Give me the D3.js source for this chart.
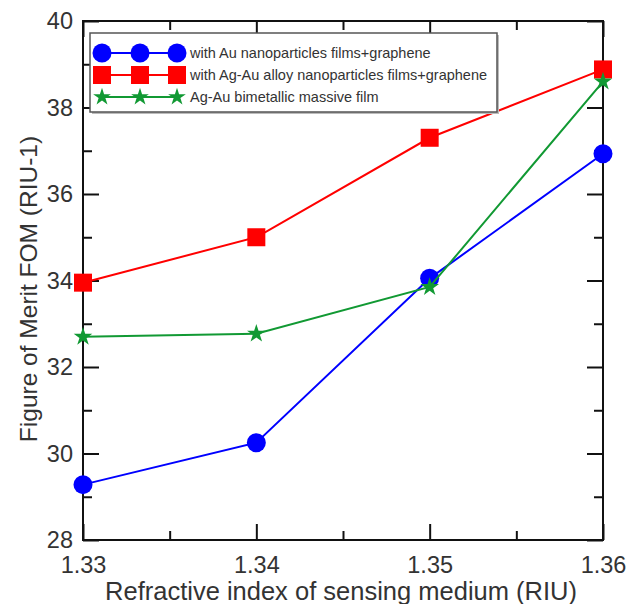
<!DOCTYPE html>
<html>
<head>
<meta charset="utf-8">
<script src="https://cdn.jsdelivr.net/npm/d3@7"></script>
<style>
  body { margin: 0; background: #fff; }
  text { font-family: "Liberation Sans", Arial, sans-serif; }
</style>
</head>
<body>
<svg width="636" height="604"></svg>
<script>
// data
var riu = [1.33, 1.34, 1.35, 1.36];
var auFilm = [29.28, 30.25, 34.05, 36.93];      // with Au nanoparticles films+graphene
var agAuFilm = [33.95, 35.0, 37.3, 38.88];      // with Ag-Au alloy nanoparticles films+graphene
var bimetal = [32.7, 32.77, 33.85, 38.6];       // Ag-Au bimetallic massive film
var xTicks = [1.33, 1.34, 1.35, 1.36];
var yTicks = [28, 30, 32, 34, 36, 38, 40];

var series = [
  {name: "with Au nanoparticles films+graphene", values: auFilm, color: "#0000ff", shape: "circle"},
  {name: "with Ag-Au alloy nanoparticles films+graphene", values: agAuFilm, color: "#ff0000", shape: "square"},
  {name: "Ag-Au bimetallic massive film", values: bimetal, color: "#119933", shape: "star"}
];

var svg = d3.select("svg"),
    margin = {top: 21, right: 33, bottom: 64, left: 83},
    width = 636 - margin.left - margin.right,
    height = 604 - margin.top - margin.bottom,
    g = svg.append("g").attr("transform", "translate(" + margin.left + "," + margin.top + ")");

var x = d3.scaleLinear().domain([1.33, 1.36]).range([0, width]);
var y = d3.scaleLinear().domain([28, 40]).range([height, 0]);

// ticks (inward, on all four sides)
var xMinor = d3.range(1.335, 1.36, 0.01);
var yMinor = d3.range(29, 40, 2);

function axes() {
  g.append("g").attr("transform", "translate(0," + height + ")")
    .call(d3.axisBottom(x).tickValues(xTicks).tickSize(-16).tickPadding(16).tickFormat(d3.format(".2f")));
  g.append("g").attr("transform", "translate(0," + height + ")")
    .call(d3.axisBottom(x).tickValues(xMinor).tickSize(-9).tickFormat(""));
  g.append("g").call(d3.axisTop(x).tickValues(xTicks).tickSize(-16).tickFormat(""));
  g.append("g").call(d3.axisTop(x).tickValues(xMinor).tickSize(-9).tickFormat(""));
  g.append("g")
    .call(d3.axisLeft(y).tickValues(yTicks).tickSize(-16).tickPadding(10));
  g.append("g").call(d3.axisLeft(y).tickValues(yMinor).tickSize(-9).tickFormat(""));
  g.append("g").attr("transform", "translate(" + width + ",0)")
    .call(d3.axisRight(y).tickValues(yTicks).tickSize(-16).tickFormat(""));
  g.append("g").attr("transform", "translate(" + width + ",0)")
    .call(d3.axisRight(y).tickValues(yMinor).tickSize(-9).tickFormat(""));
}
axes();

g.selectAll(".domain").remove();
g.selectAll(".tick line").attr("stroke", "#111").attr("stroke-width", 2);
g.selectAll(".tick text").attr("font-size", 23.5).attr("fill", "#333");

g.append("rect")
  .attr("width", width).attr("height", height)
  .attr("fill", "none").attr("stroke", "#111").attr("stroke-width", 2);

var line = d3.line()
  .x(function(d, i) { return x(riu[i]); })
  .y(function(d) { return y(d); });

function drawMarker(sel, shape, color, size) {
  if (shape === "circle") {
    sel.append("circle").attr("r", size / 2).attr("fill", color);
  } else if (shape === "square") {
    sel.append("rect").attr("x", -size / 2).attr("y", -size / 2)
      .attr("width", size).attr("height", size).attr("fill", color);
  } else {
    sel.append("path").attr("d", d3.symbol(d3.symbolStar, size * size * 0.42)()).attr("fill", color);
  }
}

var markerSize = {circle: 19, square: 18, star: 16};

series.forEach(function(s) {
  g.append("path")
    .datum(s.values)
    .attr("fill", "none")
    .attr("stroke", s.color)
    .attr("stroke-width", 2)
    .attr("d", line);
  s.values.forEach(function(v, i) {
    var m = g.append("g").attr("transform", "translate(" + x(riu[i]) + "," + y(v) + ")");
    drawMarker(m, s.shape, s.color, markerSize[s.shape]);
  });
});

// legend
var legend = svg.append("g").attr("transform", "translate(90,33)");
legend.append("rect").attr("x", 2).attr("y", 2).attr("width", 407).attr("height", 79)
  .attr("fill", "#bbb");
legend.append("rect").attr("width", 407).attr("height", 79)
  .attr("fill", "#fff").attr("stroke", "#555").attr("stroke-width", 1.5);

series.forEach(function(s, i) {
  var row = legend.append("g").attr("transform", "translate(0," + (20 + i * 22) + ")");
  row.append("line").attr("x1", 12).attr("x2", 87)
    .attr("stroke", s.color).attr("stroke-width", 2);
  [12, 50, 87].forEach(function(px) {
    var m = row.append("g").attr("transform", "translate(" + px + ",0)");
    drawMarker(m, s.shape, s.color, markerSize[s.shape] * (s.shape === "star" ? 0.95 : 1));
  });
  row.append("text").attr("x", 100).attr("dy", "0.35em")
    .attr("font-size", 14.5).attr("fill", "#333").text(s.name);
});

// axis titles
svg.append("text")
  .attr("x", 341).attr("y", 600)
  .attr("text-anchor", "middle").attr("font-size", 25.5).attr("fill", "#333")
  .text("Refractive index of sensing medium (RIU)");

svg.append("text")
  .attr("transform", "translate(37," + 289 + ") rotate(-90)")
  .attr("text-anchor", "middle").attr("font-size", 24.5).attr("fill", "#333")
  .text("Figure of Merit FOM (RIU-1)");
</script>
</body>
</html>
